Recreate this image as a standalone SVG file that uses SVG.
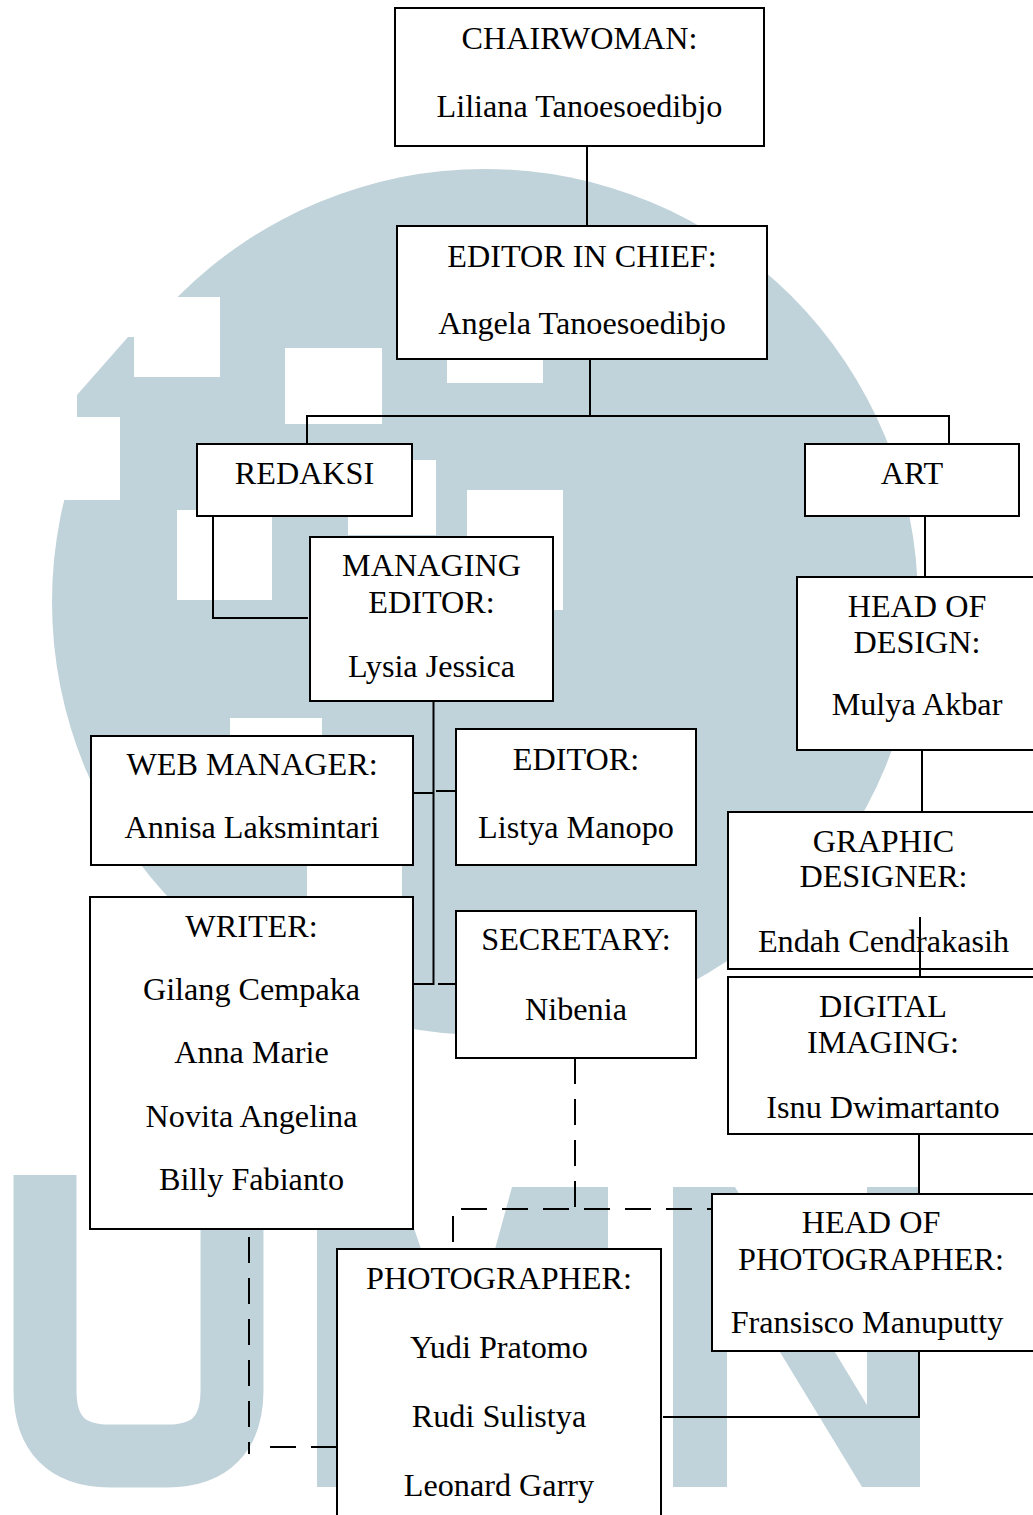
<svg xmlns="http://www.w3.org/2000/svg" width="1033" height="1515" viewBox="0 0 1033 1515">
<style>
.bg{fill:#ffffff}
.wm{fill:#c1d3da}
.wh{fill:#ffffff}
.box{fill:#ffffff;stroke:#000000;stroke-width:2}
.t{font-family:"Liberation Serif","Times New Roman",serif;font-size:32.2px;fill:#000000;text-anchor:middle}
.ln{fill:none;stroke:#000000;stroke-width:2}
.dash{fill:none;stroke:#000000;stroke-width:2;stroke-dasharray:26 15}
</style>
<rect class="bg" x="0" y="0" width="1033" height="1515"/>
<g id="watermark">
  <circle class="wm" cx="485" cy="602" r="433"/>
  <rect class="wh" x="132" y="297" width="88" height="80"/>
  <polygon class="wm" points="77,417 77,395 128,337 134,337 134,417"/>
  <rect class="wh" x="40" y="417" width="80" height="83"/>
  <rect class="wh" x="285" y="348" width="97" height="76"/>
  <rect class="wh" x="447" y="340" width="96" height="43"/>
  <rect class="wh" x="177" y="510" width="95" height="90"/>
  <rect class="wh" x="348" y="460" width="88" height="75"/>
  <rect class="wh" x="467" y="490" width="96" height="120"/>
  <rect class="wh" x="230" y="718" width="92" height="22"/>
  <rect class="wh" x="307" y="866" width="95" height="31"/>
  <path d="M45 1175 V1390 Q45 1456 110 1456 H167 Q232 1456 232 1390 V1175" fill="none" stroke="#c1d3da" stroke-width="63"/>
  <polygon class="wm" points="317,1187 400,1187 462,1370 512,1187 608,1187 608,1487 545,1487 545,1330 480,1470 446,1470 381,1330 381,1487 317,1487"/>
  <polygon class="wm" points="673,1187 735,1187 867,1405 867,1187 920,1187 920,1487 862,1487 727,1265 727,1487 673,1487"/>
</g>
<g id="chairwoman">
  <rect class="box" x="395" y="8" width="369" height="138"/>
  <text class="t" x="579.5" y="49">CHAIRWOMAN:</text>
  <text class="t" x="579.5" y="117">Liliana Tanoesoedibjo</text>
</g>
<g id="editor-in-chief">
  <rect class="box" x="397" y="226" width="370" height="133"/>
  <text class="t" x="582" y="267">EDITOR IN CHIEF:</text>
  <text class="t" x="582" y="334">Angela Tanoesoedibjo</text>
</g>
<g id="redaksi">
  <rect class="box" x="197" y="444" width="215" height="72"/>
  <text class="t" x="304.5" y="484">REDAKSI</text>
</g>
<g id="art">
  <rect class="box" x="805" y="444" width="214" height="72"/>
  <text class="t" x="912" y="484">ART</text>
</g>
<g id="managing-editor">
  <rect class="box" x="310" y="537" width="243" height="164"/>
  <text class="t" x="431.5" y="576">MANAGING</text>
  <text class="t" x="431.5" y="613">EDITOR:</text>
  <text class="t" x="431.5" y="677">Lysia Jessica</text>
</g>
<g id="head-of-design">
  <rect class="box" x="797" y="577" width="245" height="173"/>
  <text class="t" x="917" y="617">HEAD OF</text>
  <text class="t" x="917" y="653">DESIGN:</text>
  <text class="t" x="917" y="715">Mulya Akbar</text>
</g>
<g id="web-manager">
  <rect class="box" x="91" y="736" width="322" height="129"/>
  <text class="t" x="252" y="775">WEB MANAGER:</text>
  <text class="t" x="252" y="838">Annisa Laksmintari</text>
</g>
<g id="editor">
  <rect class="box" x="456" y="729" width="240" height="136"/>
  <text class="t" x="576" y="770">EDITOR:</text>
  <text class="t" x="576" y="838">Listya Manopo</text>
</g>
<g id="graphic-designer">
  <rect class="box" x="728" y="812" width="315" height="157"/>
  <text class="t" x="883.5" y="852">GRAPHIC</text>
  <text class="t" x="883.5" y="887">DESIGNER:</text>
  <text class="t" x="883.5" y="952">Endah Cendrakasih</text>
</g>
<g id="writer">
  <rect class="box" x="90" y="897" width="323" height="332"/>
  <text class="t" x="251.5" y="937">WRITER:</text>
  <text class="t" x="251.5" y="1000">Gilang Cempaka</text>
  <text class="t" x="251.5" y="1063">Anna Marie</text>
  <text class="t" x="251.5" y="1127">Novita Angelina</text>
  <text class="t" x="251.5" y="1190">Billy Fabianto</text>
</g>
<g id="secretary">
  <rect class="box" x="456" y="911" width="240" height="147"/>
  <text class="t" x="576" y="950">SECRETARY:</text>
  <text class="t" x="576" y="1020">Nibenia</text>
</g>
<g id="digital-imaging">
  <rect class="box" x="728" y="977" width="315" height="157"/>
  <text class="t" x="883" y="1017">DIGITAL</text>
  <text class="t" x="883" y="1053">IMAGING:</text>
  <text class="t" x="883" y="1118">Isnu Dwimartanto</text>
</g>
<g id="head-of-photographer">
  <rect class="box" x="712" y="1194" width="330" height="157"/>
  <text class="t" x="871" y="1233">HEAD OF</text>
  <text class="t" x="871" y="1270">PHOTOGRAPHER:</text>
  <text class="t" x="867" y="1333">Fransisco Manuputty</text>
</g>
<g id="photographer">
  <rect class="box" x="337" y="1249" width="324" height="290"/>
  <text class="t" x="499" y="1289">PHOTOGRAPHER:</text>
  <text class="t" x="499" y="1358">Yudi Pratomo</text>
  <text class="t" x="499" y="1427">Rudi Sulistya</text>
  <text class="t" x="499" y="1496">Leonard Garry</text>
</g>
<g id="connectors">
  <path class="ln" d="M587 146 V226"/>
  <path class="ln" d="M590 359 V416"/>
  <path class="ln" d="M307 444 V416 H949 V444"/>
  <path class="ln" d="M213 516 V618 H308"/>
  <path class="ln" d="M925 516 V577"/>
  <path class="ln" d="M433.5 701 V985"/>
  <path class="ln" d="M413 793 H433.5"/>
  <path class="ln" d="M436 791 H456"/>
  <path class="ln" d="M413 984 H433.5"/>
  <path class="ln" d="M438 984 H456"/>
  <path class="ln" d="M922 750 V812"/>
  <path class="ln" d="M920 917 V977"/>
  <path class="ln" d="M919 1134 V1194"/>
  <path class="ln" d="M919 1351 V1417 H663"/>
  <path class="dash" d="M575 1058 V1209"/>
  <path class="dash" d="M453 1242 V1209 H712"/>
  <path class="dash" d="M249 1237 V1454"/>
  <path class="dash" d="M270 1447 H339"/>
</g>
</svg>
